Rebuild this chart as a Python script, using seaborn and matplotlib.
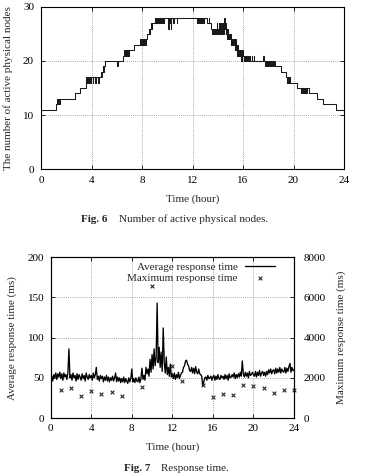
import numpy as np
import matplotlib
matplotlib.use("Agg")
import matplotlib.pyplot as plt
import seaborn as sns

# ========== DATA ==========
# Fig. 6: active physical nodes, change points (hour, count), step-post
node_hour = [
    0.0, 1.19, 1.25, 1.29, 1.33, 1.37, 1.42, 1.46, 1.50,
    2.69, 3.09, 3.54,
    3.60, 3.63, 3.66, 3.69, 3.72, 3.75, 3.78, 3.81, 3.84, 3.87, 3.92, 3.96,
    4.08, 4.12, 4.28, 4.32, 4.50, 4.56,
    4.72, 4.76, 4.80, 4.88, 4.92, 4.96, 5.10, 6.05, 6.08,
    6.52, 6.60, 6.63, 6.66, 6.70, 6.74, 6.78, 6.82, 6.86, 6.90, 6.95, 7.00,
    7.37, 7.84, 7.88, 7.92, 7.96, 8.00, 8.04, 8.08, 8.12, 8.16, 8.20, 8.25, 8.30, 8.35,
    8.42, 8.55, 8.60, 8.64, 8.72, 8.78, 8.83,
    9.03, 9.06, 9.10, 9.14, 9.18, 9.22, 9.26, 9.30, 9.34, 9.40, 9.44, 9.50, 9.54,
    9.60, 9.64, 9.70, 9.74,
    10.08, 10.11, 10.25, 10.28, 10.30, 10.33, 10.48, 10.51, 10.78, 10.81,
    12.34, 12.38, 12.42, 12.46, 12.50, 12.54, 12.58, 12.62, 12.66, 12.70, 12.74, 12.80,
    12.86, 12.90, 13.14, 13.30, 13.34,
    13.49, 13.52, 13.56, 13.60, 13.64, 13.70, 13.75, 13.80, 13.85,
    13.94, 13.97, 14.00, 14.04, 14.08, 14.12, 14.16, 14.20, 14.24, 14.28, 14.32, 14.36,
    14.40, 14.44, 14.48, 14.52, 14.55, 14.60, 14.64, 14.68, 14.72, 14.76, 14.80, 14.84,
    14.88, 14.92, 14.96, 15.00, 15.04, 15.08, 15.12, 15.16, 15.20, 15.25, 15.30, 15.35,
    15.40, 15.44, 15.48, 15.52, 15.56, 15.60, 15.64, 15.68, 15.72, 15.76, 15.80, 15.84,
    15.88, 15.92, 15.96, 16.00, 16.04, 16.08, 16.12, 16.16, 16.20, 16.25, 16.30, 16.40,
    16.44, 16.55, 16.58, 16.70, 16.74, 16.85, 16.90,
    17.62, 17.66, 17.78, 17.82, 17.86, 17.90, 17.94, 17.98, 18.02, 18.06, 18.10, 18.14,
    18.20, 18.25, 18.30, 18.35, 18.40, 18.45, 18.50,
    18.98, 19.37, 19.50, 19.54, 19.58, 19.62, 19.66, 19.70, 19.75,
    20.25, 20.57, 20.61, 20.65, 20.69, 20.73, 20.78, 20.85, 20.90, 20.95, 21.00, 21.05,
    21.10, 21.23, 21.90, 22.30, 23.35, 24.0,
]
node_count = [
    11, 12, 13, 12, 13, 12, 13, 12, 13,
    14, 15, 17,
    16, 17, 16, 17, 16, 17, 16, 17, 16, 17, 16, 17,
    16, 17, 16, 17, 16, 17,
    18, 17, 18, 19, 18, 19, 20, 19, 20,
    21, 22, 21, 22, 21, 22, 21, 22, 21, 22, 21, 22,
    23, 24, 23, 24, 23, 24, 23, 24, 23, 24, 23, 24, 23, 24,
    25, 26, 25, 26, 27, 26, 27,
    28, 27, 28, 27, 28, 27, 28, 27, 28, 27, 28, 27, 28,
    27, 28, 27, 28,
    26, 28, 27, 28, 26, 28, 27, 28, 27, 28,
    27, 28, 27, 28, 27, 28, 27, 28, 27, 28, 27, 28,
    27, 28, 27, 28, 27,
    26, 25, 26, 25, 26, 25, 26, 25, 26,
    27, 25, 26, 25, 27, 26, 25, 27, 26, 25, 27, 26,
    27, 25, 27, 28, 26, 27, 25, 26, 24, 26, 24, 25,
    24, 25, 24, 25, 23, 24, 23, 24, 23, 24, 23, 22,
    24, 22, 23, 21, 23, 21, 22, 21, 22, 21, 22, 20,
    21, 20, 22, 21, 20, 21, 20, 21, 20, 21, 20, 21,
    20, 21, 20, 21, 20, 21, 20,
    21, 20, 19, 20, 19, 20, 19, 20, 19, 20, 19, 20,
    19, 20, 19, 20, 19, 20, 19,
    18, 17, 16, 17, 16, 17, 16, 17, 16,
    15, 14, 15, 14, 15, 14, 15, 14, 15, 14, 15, 14,
    15, 14, 13, 12, 11, 11,
]

# Fig. 7: average response time (ms), sampled every 0.1 h from 0 to 24
avg_hour = np.linspace(0, 24, 241)
avg_ms = [
    48, 52, 46, 54, 50, 56, 48, 55, 51, 57,
    49, 55, 47, 56, 51, 54, 48, 57, 86, 50,
    54, 47, 56, 50, 53, 46, 55, 48, 54, 51,
    47, 55, 49, 53, 46, 56, 51, 48, 54, 50,
    53, 47, 56, 50, 54, 63, 48, 52, 46, 53,
    49, 52, 45, 51, 47, 53, 46, 51, 45, 50,
    47, 52, 46, 50, 56, 45, 51, 46, 50, 44,
    49, 45, 51, 44, 49, 46, 43, 50, 45, 49,
    61, 45, 49, 44, 50, 46, 45, 51, 44, 49,
    62, 48, 53, 47, 63, 55, 61, 52, 73, 57,
    79, 61, 86, 65, 75, 143, 69, 88, 63, 81,
    58, 112, 69, 56, 76, 54, 63, 52, 67, 51,
    55, 49, 56, 48, 54, 50, 57, 49, 53, 56,
    57, 63, 65, 71, 72, 67, 65, 59, 58, 63,
    56, 62, 55, 64, 57, 55, 61, 55, 54, 52,
    40, 45, 50, 51, 47, 53, 49, 50, 52, 47,
    51, 53, 47, 52, 48, 54, 49, 48, 53, 50,
    52, 48, 54, 49, 53, 47, 55, 50, 51, 54,
    51, 56, 49, 54, 50, 55, 51, 57, 52, 71,
    55, 51, 57, 52, 56, 50, 58, 53, 54, 57,
    54, 52, 58, 51, 57, 53, 59, 52, 56, 58,
    53, 57, 52, 58, 54, 60, 56, 61, 55, 59,
    60, 55, 62, 56, 61, 57, 63, 56, 61, 58,
    57, 63, 56, 62, 58, 64, 68, 57, 63, 59,
    60,
]

# maximum response time (ms), hourly
max_hour = [1, 2, 3, 4, 5, 6, 7, 9, 10, 11, 12, 13, 15, 16, 17, 18, 19, 20, 21, 22, 23, 24]
max_ms = [1410, 1510, 1095, 1345, 1210, 1310, 1095, 1545, 6580, 3250, 2600, 1835,
          1635, 1060, 1210, 1145, 1630, 1575, 1495, 1260, 1410, 1410]

xticks = [0, 4, 8, 12, 16, 20, 24]

# ========== STYLE ==========
sns.set_style("ticks")
plt.rcParams["font.family"] = ["Liberation Serif", "DejaVu Serif"]
plt.rcParams["font.size"] = 8
plt.rcParams["axes.linewidth"] = 0.8
plt.rcParams["xtick.direction"] = "in"
plt.rcParams["ytick.direction"] = "in"

FS = 8
W, H = 369, 473
fig = plt.figure(figsize=(W / 100, H / 100), dpi=100)


def box(l, t, r, b):
    return [l / W, 1 - b / H, (r - l) / W, (b - t) / H]


grid_kw = dict(color="#8a8a8a", linestyle=(0, (1, 1.5)), linewidth=0.6)

# ========== FIG 6 ==========
ax1 = fig.add_axes(box(41, 7, 344, 169))
sns.lineplot(x=node_hour, y=node_count, ax=ax1, drawstyle="steps-post",
             estimator=None, sort=False, color="#1a1a1a", linewidth=0.75)
ax1.set_xlim(0, 24)
ax1.set_ylim(0, 30)
ax1.set_xticks(xticks)
ax1.set_yticks([0, 10, 20, 30])
ax1.grid(True, **grid_kw)
ax1.tick_params(top=True, right=True, length=3, width=0.6, pad=5, labelsize=FS, colors="black")
for s in ax1.spines.values():
    s.set_visible(True)
    s.set_color("black")
ax1.set_xlabel("Time (hour)", fontsize=FS, va="center")
ax1.xaxis.set_label_coords(0.5, -0.185)
ax1.set_ylabel("The number of active physical nodes", fontsize=FS, va="center")
ax1.yaxis.set_label_coords(-0.108, 0.5)

fig.text(107.5 / W, 1 - 219 / H, "Fig. 6", fontsize=FS, fontweight="bold", ha="right", va="center")
fig.text(119 / W, 1 - 219 / H, "Number of active physical nodes.", fontsize=FS, ha="left", va="center")

# ========== FIG 7 ==========
ax2 = fig.add_axes(box(50.7, 257.3, 294, 418))
sns.lineplot(x=avg_hour, y=avg_ms, ax=ax2, estimator=None, sort=False,
             color="black", linewidth=0.95, label="Average response time", legend=False)
ax2.set_xlim(0, 24)
ax2.set_ylim(0, 200)
ax2.set_xticks(xticks)
ax2.set_yticks([0, 50, 100, 150, 200])
ax2.grid(True, **grid_kw)
ax2.tick_params(top=True, right=False, length=3, width=0.6, pad=4.5, labelsize=FS, colors="black")

ax3 = ax2.twinx()
sns.scatterplot(x=max_hour, y=max_ms, ax=ax3, marker="x", s=7, color="#262626",
                linewidth=0.8, label="Maximum response time", legend=False, clip_on=False)
ax3.set_ylim(0, 8000)
ax3.set_yticks([0, 2000, 4000, 6000, 8000])
ax3.tick_params(right=True, length=3, width=0.6, pad=7, labelsize=FS, colors="black")
for a in (ax2, ax3):
    for s in a.spines.values():
        s.set_visible(True)
        s.set_color("black")

ax2.set_xlabel("Time (hour)", fontsize=FS, va="center")
ax2.xaxis.set_label_coords(0.5, -0.18)
ax2.set_ylabel("Average response time (ms)", fontsize=FS, va="center")
ax2.yaxis.set_label_coords(-0.158, 0.5)
ax3.set_ylabel("Maximum response time (ms)", fontsize=FS, va="center", rotation=90)
ax3.yaxis.set_label_coords(1.196, 0.505)

h1, l1 = ax2.get_legend_handles_labels()
h2, l2 = ax3.get_legend_handles_labels()
leg = ax3.legend(h1 + h2, l1 + l2, loc="upper right", bbox_to_anchor=(0.955, 1.02),
                 frameon=False, markerfirst=False, fontsize=FS, handlelength=2.7,
                 handletextpad=0.7, labelspacing=0.1, borderpad=0.2)

fig.text(150 / W, 1 - 468 / H, "Fig. 7", fontsize=FS, fontweight="bold", ha="right", va="center")
fig.text(161.3 / W, 1 - 468 / H, "Response time.", fontsize=FS, ha="left", va="center")

plt.savefig("out.png", dpi=100)
plt.close()
